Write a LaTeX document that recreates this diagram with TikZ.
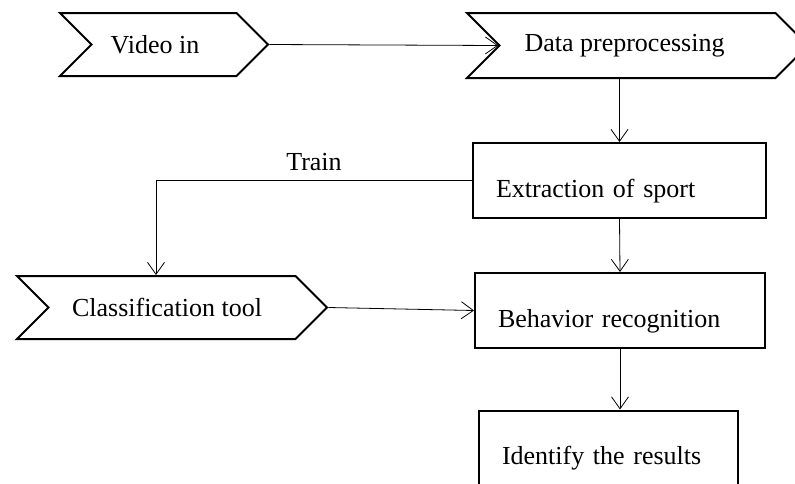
\documentclass[tikz,border=0pt]{standalone}
\usepackage{fontspec}
\setmainfont{Liberation Serif}
\usetikzlibrary{shapes.symbols,arrows.meta,positioning}
\tikzset{
  flag/.style={signal, signal to=east, signal from=west, draw, line width=2pt,
    inner sep=0pt, font=\fontsize{26}{30}\selectfont},
  stage/.style={rectangle, draw, line width=2pt, align=left, inner ysep=0pt,
    inner xsep=23pt, text height=54pt, text depth=21pt, font=\fontsize{26}{30}\selectfont},
  link/.style={line width=0.8pt, -{Straight Barb[length=12pt,width=17pt,line width=0.8pt]}}
}
\begin{document}
\begin{tikzpicture}[x=1pt,y=-1pt]
      \useasboundingbox (0,0) rectangle (795,483);
      \clip (0,0) rectangle (795,483);
      \node[flag,minimum width=208pt,minimum height=63pt] (vid) at (164,44.5) {Video in\kern18pt};
      \node[flag,minimum width=341pt,minimum height=65pt] (pre) at (637.5,45.5) {Data preprocessing\kern26pt};
      \node[flag,minimum width=310pt,minimum height=63pt] (cls) at (172,307.5) {Classification tool\kern10pt};
      \node[stage,text width=247pt] (ext) at (619.5,180.5) {Extraction of sport};
      \node[stage,text width=244pt] (beh) at (620,310.5) {Behavior recognition};
      \node[stage,text width=213pt,text depth=60pt] (res) at (608.5,467.5) {Identify the results};
      \draw[link] (vid.east) -- (pre.west);
      \draw[link] (ext.north |- pre.south) -- (ext.north);
      \draw[link] (ext.south) -- (beh.north);
      \draw[link] (beh.south) -- (beh.south |- res.north);
      \draw[link] (ext.west) -| ([xshift=-16pt]cls.north)
        node[pos=0.25,above=6pt,font=\fontsize{26}{30}\selectfont] (train) {Train};
      \draw[link] (cls.east) -- (beh.west);
    \end{tikzpicture}
\end{document}
